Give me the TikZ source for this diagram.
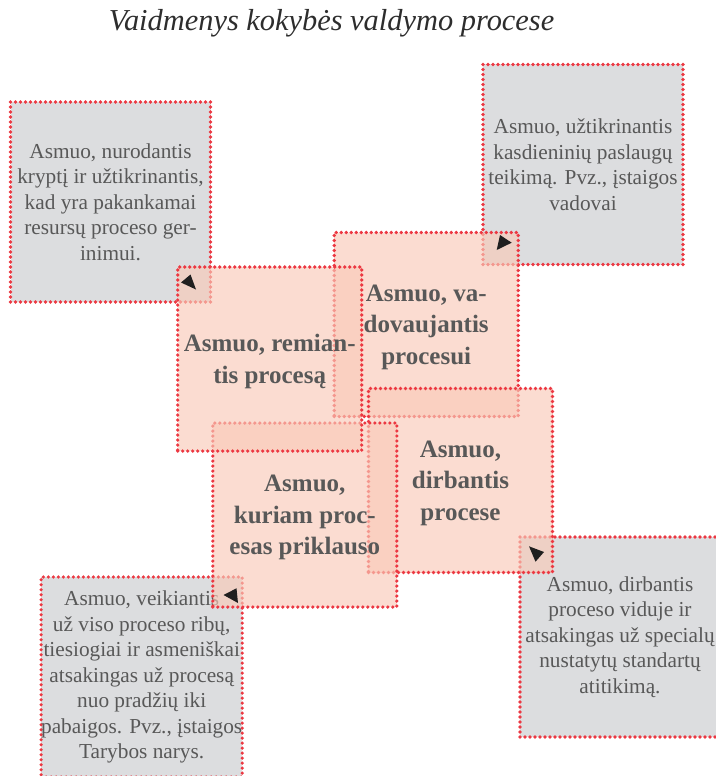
\documentclass[tikz,border=0pt]{standalone}
\usepackage{fontspec}
\setmainfont{Liberation Serif}
\definecolor{dotred}{RGB}{236,56,66}
\definecolor{boxgray}{RGB}{220,221,223}
\definecolor{rolefill}{RGB}{249,202,184}
\definecolor{txtgray}{RGB}{88,88,88}
\definecolor{titlegray}{RGB}{45,45,45}
\tikzset{
  dotted edge/.style={draw=dotred, line width=3.6pt,
    dash pattern=on 0pt off 5pt, line cap=round},
  infobox/.style={dotted edge, fill=boxgray, rectangle, inner sep=0pt,
    minimum width=200pt, minimum height=200pt, align=center,
    text=txtgray, font=\fontsize{21.3}{25.5}\selectfont},
  rolebox/.style={dotted edge, fill=rolefill, fill opacity=0.65,
    text opacity=1, rectangle, inner sep=0pt, text depth=0pt,
    minimum width=184pt, minimum height=184pt, align=center,
    text=txtgray, font=\fontsize{25}{31.5}\selectfont\bfseries},
  pointer/.style={fill=black!88},
}
\begin{document}
\begin{tikzpicture}[x=1pt,y=-1pt]
\useasboundingbox (0,0) rectangle (715,776);

% heading
\node[anchor=base, text=titlegray, font=\fontsize{30.4}{36}\selectfont\itshape]
  (title) at (331.5,31) {Vaidmenys kokybės valdymo procese};

% grey description boxes
\node[infobox] (tl) at (110.5,202)
  {Asmuo, nurodantis\\kryptį ir užtikrinantis,\\kad yra pakankamai\\resursų proceso ger-\\inimui.};
\node[infobox] (tr) at (583,164.5)
  {Asmuo, užtikrinantis\\kasdieninių paslaugų\\teikimą. Pvz., įstaigos\\vadovai};
\node[infobox] (bl) at (141.7,677)
  {Asmuo, veikiantis\\už viso proceso ribų,\\tiesiogiai ir asmeniškai\\atsakingas už procesą\\nuo pradžių iki\\pabaigos. Pvz., įstaigos\\Tarybos narys.};
\node[infobox] (br) at (620,637)
  {Asmuo, dirbantis\\proceso viduje ir\\atsakingas už specialų\\nustatytų standartų\\atitikimą.};

% overlapping role boxes
\node[rolebox] (lead) at (426.2,324.5) {Asmuo, va-\\dovaujantis\\procesui};
\node[rolebox] (work) at (460.5,480.5) {Asmuo,\\dirbantis\\procese};
\node[rolebox] (own) at (304.8,515) {Asmuo,\\kuriam proc-\\esas priklauso};
\node[rolebox] (supp) at (269.7,359) {Asmuo, remian-\\tis procesą};

% arrow tips pointing to the descriptions
\fill[pointer] (181,282.5) -- (190.5,274.5) -- (196,289.5) -- cycle;
\fill[pointer] (500,235) -- (511.7,242.7) -- (496.7,250) -- cycle;
\fill[pointer] (529,546.3) -- (544,552) -- (535.5,561.7) -- cycle;
\fill[pointer] (223.5,595) -- (236.5,588.3) -- (238,603) -- cycle;
\end{tikzpicture}
\end{document}
